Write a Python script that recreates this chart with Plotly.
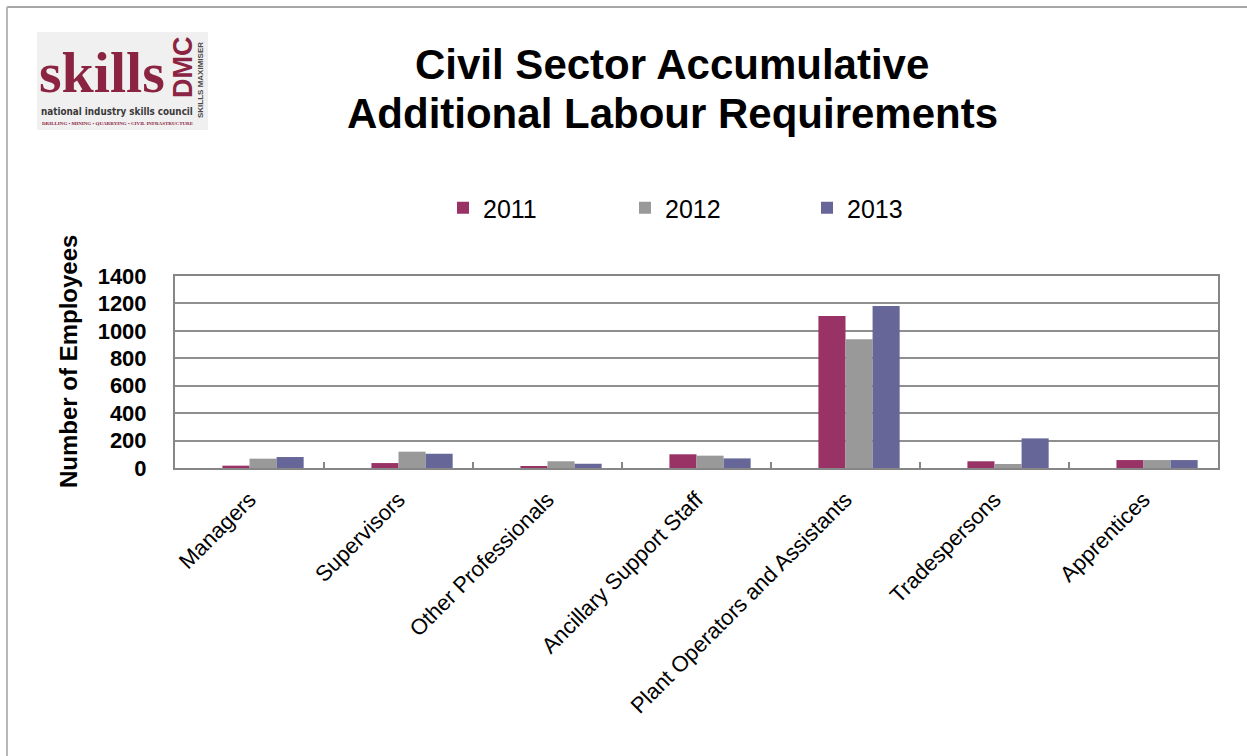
import plotly.graph_objects as go

# ---- data ----
categories = ["Managers", "Supervisors", "Other Professionals", "Ancillary Support Staff",
              "Plant Operators and Assistants", "Tradespersons", "Apprentices"]
years = ["2011", "2012", "2013"]
values_2011 = [17, 36, 12, 100, 1108, 49, 58]
values_2012 = [68, 119, 49, 90, 938, 29, 58]
values_2013 = [80, 104, 31, 70, 1181, 216, 58]
y_ticks = [0, 200, 400, 600, 800, 1000, 1200, 1400]

colors = ["#993366", "#999999", "#666699"]
FONT = "Arial, Liberation Sans, sans-serif"

# ---- layout geometry (pixels) ----
W, H = 1247, 756
L, R, T, B = 175, 1218, 276, 468


def px(x):
    return (x - L) / (R - L)


def py(y):
    return (B - y) / (B - T)


fig = go.Figure()

# empty leading series slot in each group
fig.add_trace(go.Bar(x=categories, y=[None] * len(categories), showlegend=False,
                     hoverinfo="skip", marker_color="rgba(0,0,0,0)"))
for name, vals, col in zip(years, [values_2011, values_2012, values_2013], colors):
    fig.add_trace(go.Bar(x=categories, y=vals, name=name, marker_color=col,
                         marker_line_width=0))

shapes = [
    # page frame (top and left edges)
    dict(type="line", xref="paper", yref="paper", x0=px(7), x1=px(W), y0=py(7), y1=py(7),
         line=dict(color="#a6a6a6", width=2)),
    dict(type="line", xref="paper", yref="paper", x0=px(7), x1=px(7), y0=py(7), y1=py(H),
         line=dict(color="#b8b8b8", width=2)),
    # logo panel
    dict(type="rect", xref="paper", yref="paper", x0=px(37), x1=px(208), y0=py(32), y1=py(130),
         fillcolor="#f1f0f0", line=dict(width=0), layer="below"),
]

annotations = [
    dict(text="<b>Civil Sector Accumulative</b>", x=px(672), y=py(65), xref="paper", yref="paper",
         showarrow=False, xanchor="center", yanchor="middle",
         font=dict(family=FONT, size=42, color="#000000")),
    dict(text="<b>Additional Labour Requirements</b>", x=px(672), y=py(113), xref="paper",
         yref="paper", showarrow=False, xanchor="center", yanchor="middle",
         font=dict(family=FONT, size=42, color="#000000")),
    # y axis title
    dict(text="<b>Number of Employees</b>", x=px(68), y=py(362), xref="paper", yref="paper",
         showarrow=False, textangle=-90, xanchor="center", yanchor="middle",
         font=dict(family=FONT, size=24, color="#000000")),
    # logo text
    dict(text="<b>skills</b>", x=px(37), y=py(72), xref="paper", yref="paper", showarrow=False,
         xanchor="left", yanchor="middle",
         font=dict(family="Liberation Serif, serif", size=58, color="#8b2342")),
    dict(text="<b>DMC</b>", x=px(183), y=py(67), xref="paper", yref="paper", showarrow=False,
         textangle=-90, xanchor="center", yanchor="middle",
         font=dict(family=FONT, size=27, color="#8b2342")),
    dict(text="<b>SKILLS MAXIMISER</b>", x=px(201), y=py(80), xref="paper", yref="paper",
         showarrow=False, textangle=-90, xanchor="center", yanchor="middle",
         font=dict(family=FONT, size=8, color="#4a4a4a")),
    dict(text="<b>national industry skills council</b>", x=px(39), y=py(111), xref="paper",
         yref="paper", showarrow=False, xanchor="left", yanchor="middle",
         font=dict(family="DejaVu Sans Condensed, Liberation Sans Narrow, sans-serif", size=9.8,
                   color="#3a3a3a")),
    dict(text="<b>DRILLING • MINING • QUARRYING • CIVIL INFRASTRUCTURE</b>", x=px(40), y=py(123),
         xref="paper", yref="paper", showarrow=False, xanchor="left", yanchor="middle",
         font=dict(family="Liberation Serif, serif", size=5, color="#8b2342")),
]

fig.update_layout(
    width=W, height=H,
    margin=dict(l=L, r=W - R, t=T, b=H - B, autoexpand=False),
    paper_bgcolor="#ffffff", plot_bgcolor="#ffffff",
    barmode="group", bargap=0.273, bargroupgap=0,
    font=dict(family=FONT, color="#000000"),
    showlegend=True,
    legend=dict(orientation="h", x=px(443), y=py(208), xanchor="left", yanchor="middle",
                font=dict(family=FONT, size=25, color="#000000"),
                entrywidth=137, entrywidthmode="pixels", bgcolor="rgba(0,0,0,0)"),
    shapes=shapes,
    annotations=annotations,
)

fig.update_xaxes(
    showline=True, linecolor="#868686", linewidth=2, mirror=True,
    ticks="inside", tickson="boundaries", ticklen=6, tickcolor="#868686", tickwidth=2,
    tickangle=-45, ticklabelstandoff=8, tickfont=dict(family=FONT, size=22, color="#000000"),
    showgrid=False,
)
fig.update_yaxes(
    range=[0, 1400], tickvals=y_ticks, ticktext=[f"<b>{v}</b>" for v in y_ticks],
    showline=True, linecolor="#868686", linewidth=2, mirror=True,
    showgrid=True, gridcolor="#8f8f8f", gridwidth=1.5, zeroline=False,
    ticks="", ticklabelstandoff=22,
    tickfont=dict(family=FONT, size=22, color="#000000"),
)

fig.write_html("out.html")
